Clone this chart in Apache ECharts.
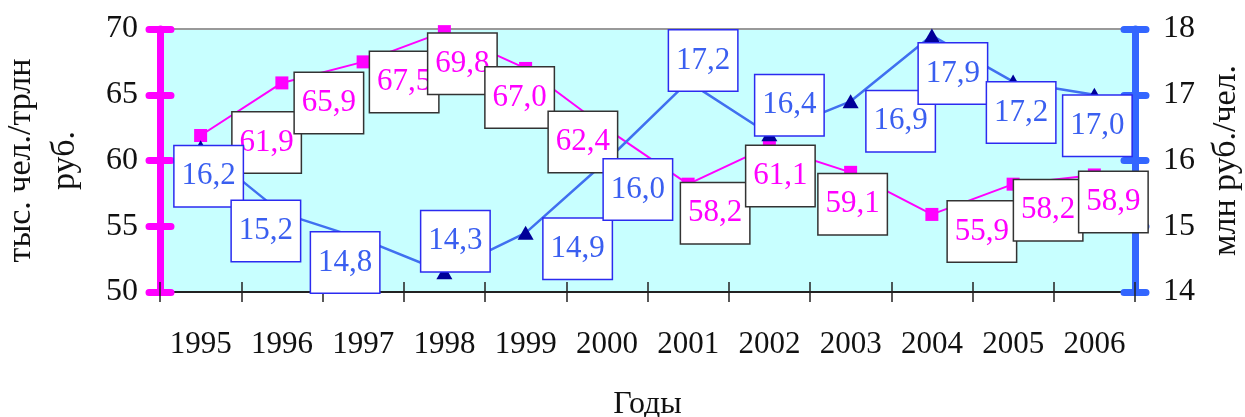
<!DOCTYPE html>
<html>
<head>
<meta charset="utf-8">
<script src="https://cdn.jsdelivr.net/npm/echarts@6/dist/echarts.min.js"></script>
<style>
  html, body { margin: 0; padding: 0; background: #fff; }
  #main { width: 1245px; height: 417px; }
</style>
</head>
<body>
<div id="main"></div>
<script>
// данные графика
const years = ['1995', '1996', '1997', '1998', '1999', '2000', '2001', '2002', '2003', '2004', '2005', '2006'];
const pinkValues = [61.9, 65.9, 67.5, 69.8, 67.0, 62.4, 58.2, 61.1, 59.1, 55.9, 58.2, 58.9]; // тыс. чел./трлн руб.
const blueValues = [16.2, 15.2, 14.8, 14.3, 14.9, 16.0, 17.2, 16.4, 16.9, 17.9, 17.2, 17.0]; // млн руб./чел.
const leftTicks = [50, 55, 60, 65, 70];
const rightTicks = [14, 15, 16, 17, 18];

// сдвиг подписей относительно точки (как на исходной картинке)
const pinkLabelShift = [[66, 7], [47, 20], [41, 20], [18, 32], [-6, 29], [-24, 13], [27, 29], [11, 30], [2, 32], [50, 17], [35, 26], [19, 27]];
const blueLabelShift = [[8, 29], [-16, 18], [-18, 23], [11, -31], [52, 16], [31, 29], [15, -21], [20, -29], [50, 20], [21, 38], [8, 31], [3, 31]];

const FONT = '"Liberation Serif", "Times New Roman", serif';
const PINK = '#ff00ff';
const BLUE_AXIS = '#3366ff';
const BLUE_LINE = '#4070f0';

const fmt = v => v.toFixed(1).replace('.', ',');

const myChart = echarts.init(document.getElementById('main'));

function boxLabel(color, border) {
  return {
    show: true,
    position: 'inside',
    formatter: p => fmt(p.value),
    fontFamily: FONT,
    fontSize: 31,
    color: color,
    backgroundColor: '#fff',
    borderColor: border,
    borderWidth: 1.5,
    width: 54,
    height: 30,
    lineHeight: 30,
    align: 'center',
    verticalAlign: 'middle',
    padding: [15, 7]
  };
}

function yAxisBase(ticks, pos, color) {
  return {
    type: 'value',
    position: pos,
    min: ticks[0],
    max: ticks[ticks.length - 1],
    interval: ticks[1] - ticks[0],
    splitLine: { show: false },
    axisLine: { show: true, lineStyle: { color: color, width: 7 } },
    axisTick: { show: true, length: 11, lineStyle: { color: color, width: 7, cap: 'round' } },
    axisLabel: { fontFamily: FONT, fontSize: 32, color: '#111', margin: pos === 'left' ? 22 : 28 }
  };
}

const yLeft = yAxisBase(leftTicks, 'left', PINK);
yLeft.name = 'тыс. чел./трлн\nруб.';
yLeft.nameLocation = 'middle';
yLeft.nameRotate = 90;
yLeft.nameGap = 73;
yLeft.nameTextStyle = { fontFamily: FONT, fontSize: 34, color: '#111', lineHeight: 44 };

const yRight = yAxisBase(rightTicks, 'right', BLUE_AXIS);
yRight.name = 'млн руб./чел.';
yRight.nameLocation = 'middle';
yRight.nameRotate = 90;
yRight.nameGap = 74;
yRight.nameTextStyle = { fontFamily: FONT, fontSize: 34, color: '#111' };

// вторые оси только для засечек внутрь
const yLeftIn = yAxisBase(leftTicks, 'left', PINK);
yLeftIn.axisLine = { show: false };
yLeftIn.axisLabel = { show: false };
yLeftIn.axisTick = { show: true, inside: true, length: 11, lineStyle: { color: PINK, width: 7, cap: 'round' } };
const yRightIn = yAxisBase(rightTicks, 'right', BLUE_AXIS);
yRightIn.axisLine = { show: false };
yRightIn.axisLabel = { show: false };
yRightIn.axisTick = { show: true, inside: true, length: 11, lineStyle: { color: BLUE_AXIS, width: 7, cap: 'round' } };

myChart.setOption({
  animation: false,
  grid: {
    left: 160, right: 110, top: 29, bottom: 125,
    show: true,
    backgroundColor: '#c8ffff',
    borderColor: '#999',
    borderWidth: 2,
    outerBoundsMode: 'none'
  },
  xAxis: [
    {
      type: 'category',
      data: years,
      boundaryGap: true,
      name: 'Годы',
      nameLocation: 'middle',
      nameGap: 97,
      nameTextStyle: { fontFamily: FONT, fontSize: 32, color: '#111' },
      axisLine: { lineStyle: { color: '#222', width: 2 } },
      axisTick: { show: true, length: 10, lineStyle: { color: '#222', width: 1.5 } },
      axisLabel: { fontFamily: FONT, fontSize: 31, color: '#111', margin: 37, interval: 0 }
    },
    {
      type: 'category',
      data: years,
      position: 'bottom',
      boundaryGap: true,
      axisLine: { show: false },
      axisLabel: { show: false },
      axisTick: { show: true, inside: true, length: 10, lineStyle: { color: '#222', width: 1.5 } }
    }
  ],
  yAxis: [yLeft, yRight, yLeftIn, yRightIn],
  series: [
    {
      name: 'pink',
      type: 'line',
      yAxisIndex: 0,
      symbol: 'rect',
      symbolSize: 13,
      itemStyle: { color: PINK },
      lineStyle: { color: PINK, width: 2 },
      data: pinkValues.map((v, i) => ({ value: v, label: { offset: pinkLabelShift[i] } })),
      label: boxLabel(PINK, '#333')
    },
    {
      name: 'blue',
      type: 'line',
      yAxisIndex: 1,
      symbol: 'triangle',
      symbolSize: [16, 14],
      itemStyle: { color: '#000099' },
      lineStyle: { color: BLUE_LINE, width: 2.5 },
      data: blueValues.map((v, i) => ({ value: v, label: { offset: blueLabelShift[i] } })),
      label: boxLabel('#3a5ff0', '#2b2bf0')
    }
  ]
});
</script>
</body>
</html>
